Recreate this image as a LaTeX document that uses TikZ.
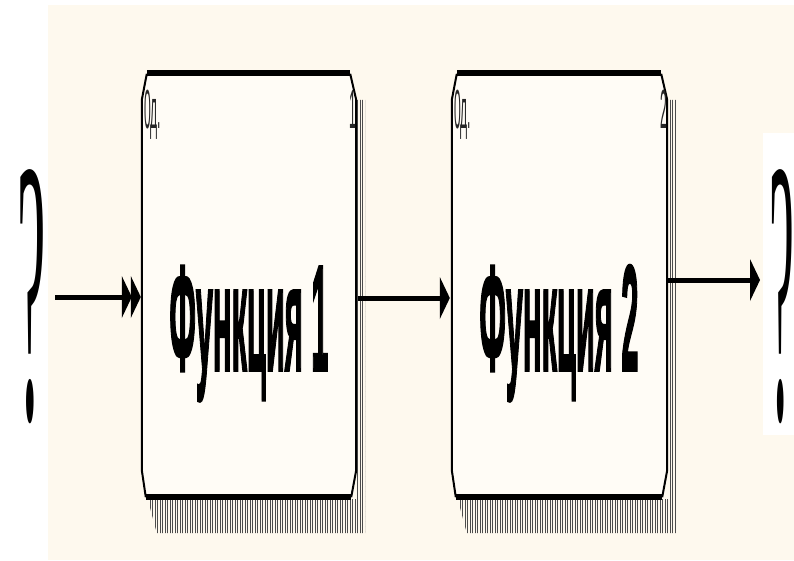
\documentclass[tikz,border=0pt]{standalone}
\usepackage{fontspec}
\setmainfont{Liberation Sans}
\newfontfamily\serifq{Liberation Serif}
\newfontfamily\heavyf[FakeBold=2.5]{Liberation Sans Bold}
\usetikzlibrary{calc,patterns.meta}
\definecolor{cream}{RGB}{254,249,238}
\definecolor{boxfill}{RGB}{255,252,246}
\tikzset{
  boxnode/.style={draw=none, inner sep=0pt, minimum height=424pt},
  thinedge/.style={line width=2pt, line join=round},
  thickedge/.style={line width=5.5pt},
  shadowfill/.style={pattern={Lines[angle=90,distance=2.5pt,line width=0.9pt]}, pattern color=black!70},
  flowline/.style={line width=5pt},
  tipfill/.style={fill=black},
  title/.style={font=\heavyf\fontsize{40}{40}\selectfont, inner sep=0pt},
  corner/.style={font=\fontsize{11}{11}\selectfont, inner sep=0pt, text=black!85},
  qmark/.style={font=\serifq\fontsize{40}{40}\selectfont, inner sep=0pt}
}
% arrow tip pointing right with its point at #1
\newcommand\tipat[1]{\fill[tipfill] ($#1+(-10,-21)$) -- #1 -- ($#1+(-10,21)$) -- cycle;}
\newcommand\idefshadow[1]{%
  \fill[shadowfill] ($(#1.north east)+(1,27)$) -- ($(#1.north east)+(9,27)$) -- ($(#1.south east)+(9,36)$) -- ($(#1.south west)+(15,36)$) -- ($(#1.south west)+(6,2)$) -- ($(#1.south east)+(1,2)$) -- cycle;}
\newcommand\idefoutline[1]{%
  \fill[boxfill] ($(#1.north west)+(5,0)$) -- ($(#1.north east)+(-6,0)$) -- ($(#1.north east)+(0,27)$) -- ($(#1.south east)+(0,-27)$) -- ($(#1.south east)+(-5,0)$) -- ($(#1.south west)+(4,0)$) -- ($(#1.south west)+(0,-27)$) -- ($(#1.north west)+(0,27)$) -- cycle;
  \draw[thinedge] ($(#1.north west)+(5,1)$) -- ($(#1.north west)+(0,27)$) -- ($(#1.south west)+(0,-27)$) -- ($(#1.south west)+(4,0)$);
  \draw[thinedge] ($(#1.north east)+(-6,1)$) -- ($(#1.north east)+(0,27)$) -- ($(#1.south east)+(0,-27)$) -- ($(#1.south east)+(-5,0)$);
  \draw[thickedge] ($(#1.north west)+(5,0)$) -- ($(#1.north east)+(-6,0)$);
  \draw[thickedge] ($(#1.south west)+(4,0)$) -- ($(#1.south east)+(-5,0)$);}
\begin{document}
\begin{tikzpicture}[x=1pt,y=-1pt]
\useasboundingbox (0,0) rectangle (794,560);
\fill[white] (0,0) rectangle (794,560);
\fill[cream] (48,5) rectangle (794,560);
\fill[white] (763,133) rectangle (794,435);

\node[boxnode, minimum width=214pt] (b1) at (249,285) {};
\node[boxnode, minimum width=215pt] (b2) at (559.5,285) {};

\idefshadow{b1}
\idefshadow{b2}
\idefoutline{b1}
\idefoutline{b2}

\node[corner, anchor=base west] (c1) at (144,128) {\scalebox{1.1}[5.0]{0д.}};
\node[corner, anchor=base east] (n1) at (356,128) {\scalebox{1.1}[5.0]{1}};
\node[corner, anchor=base west] (c2) at (454,128) {\scalebox{1.1}[5.0]{0д.}};
\node[corner, anchor=base east] (n2) at (667,128) {\scalebox{1.1}[5.0]{2}};

\node[title, anchor=base] (t1) at (249,370) {\scalebox{0.77}[3.74]{Функция 1}};
\node[title, anchor=base] (t2) at (559,370) {\scalebox{0.77}[3.74]{Функция 2}};

\node[qmark, anchor=base] (q1) at (32,418) {\scalebox{1.6}[9.4]{?}};
\node[qmark, anchor=base] (q2) at (782,418) {\scalebox{1.4}[9.4]{?}};

\coordinate (in) at (55,297);
\coordinate (mid) at (0,298);
\coordinate (out) at (760,280);
\coordinate (inend) at ($(in -| b1.west)+(-1,0)$);
\coordinate (inend2) at ($(inend)+(-9,0)$);
\coordinate (midstart) at ($(mid -| b1.east)+(2,0)$);
\coordinate (midend) at ($(mid -| b2.west)+(-2,0)$);
\coordinate (outstart) at ($(out -| b2.east)+(1,0)$);

\draw[flowline] (in) -- ($(inend2)+(-6,0)$);
\tipat{(inend2)}
\tipat{(inend)}
\draw[flowline] (midstart) -- ($(midend)+(-8,0)$);
\tipat{(midend)}
\draw[flowline] (outstart) -- ($(out)+(-8,0)$);
\tipat{(out)}
\end{tikzpicture}
\end{document}
